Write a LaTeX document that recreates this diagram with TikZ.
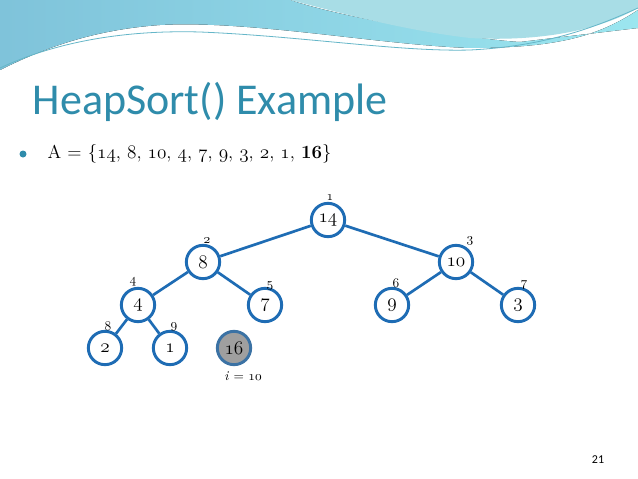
\documentclass[tikz,border=0pt]{standalone}
\usepackage{fontspec}
\newfontfamily\titlefont{Carlito}
\newcommand\osn[1]{{\fontencoding{OML}\fontfamily{lmm}\fontseries{m}\fontshape{it}\selectfont #1}}
\begin{document}
\begin{tikzpicture}[x=0.75pt,y=-0.75pt,
  hn/.style={circle,draw=hblue,line width=2.2pt,minimum size=25pt,inner sep=0pt,fill=white,font=\fontsize{15}{15}\selectfont},
  idx/.style={font=\fontsize{10}{10}\selectfont},
  edge/.style={draw=hblue,line width=2pt}]
\definecolor{hblue}{HTML}{1E6CB4}
\definecolor{wave1}{HTML}{7FC3DA}
\definecolor{wave2}{HTML}{A8DDE6}
\definecolor{ttl}{HTML}{2F8CAB}
\useasboundingbox (0,0) rectangle (638,478);
\fill[white] (0,0) rectangle (638,478);
% waves
\fill[left color=wave1,right color=wave1!70!cyan!60] (0,0) -- (290,0) .. controls (350,20) and (480,40) .. (520,42) -- (638,28) -- (638,10) .. controls (600,35) and (560,48) .. (470,48) .. controls (380,45) and (250,20) .. (160,25) .. controls (90,30) and (40,50) .. (0,70) -- cycle;
\fill[wave2] (290,0) -- (638,0) -- (638,8) .. controls (600,30) and (540,42) .. (470,38) .. controls (400,30) and (330,10) .. (290,0) -- cycle;
\draw[wave1!80!teal,line width=0.6pt] (0,68) .. controls (60,40) and (130,30) .. (200,32) .. controls (300,36) and (400,52) .. (470,50) .. controls (550,46) and (600,25) .. (638,8);
% title
\node[anchor=west,text=ttl,font=\titlefont\fontsize{33}{33}\selectfont] (title) at (28,102) {HeapSort() Example};
\fill[ttl] (23,154) circle (3.5);
\node[anchor=west,font=\fontsize{14}{14}\selectfont] (arr) at (43,154) {A = \{\osn{14}, \osn{8}, \osn{10}, \osn{4}, \osn{7}, \osn{9}, \osn{3}, \osn{2}, \osn{1}, \textbf{16}\}};
% tree
\node[hn] (n1) at (328,220) {\osn{14}};
\node[hn] (n2) at (203,262) {\osn{8}};
\node[hn] (n3) at (456,262) {\osn{10}};
\node[hn] (n4) at (138,305) {\osn{4}};
\node[hn] (n5) at (265,305) {\osn{7}};
\node[hn] (n6) at (392,305) {\osn{9}};
\node[hn] (n7) at (518,305) {\osn{3}};
\node[hn] (n8) at (105,348) {\osn{2}};
\node[hn] (n9) at (170,348) {\osn{1}};
\node[hn,fill=gray!75,draw=hblue!70!gray] (n10) at (234,348) {\osn{16}};
\draw[edge] (n1)--(n2) (n1)--(n3) (n2)--(n4) (n2)--(n5) (n3)--(n6) (n3)--(n7) (n4)--(n8) (n4)--(n9);
\node[idx] (l1) at (330,198) {\osn{1}};
\node[idx] (l2) at (207,241) {\osn{2}};
\node[idx] (l3) at (470,241) {\osn{3}};
\node[idx] (l4) at (133,282) {\osn{4}};
\node[idx] (l5) at (270,286) {\osn{5}};
\node[idx] (l6) at (396,283) {\osn{6}};
\node[idx] (l7) at (524,285) {\osn{7}};
\node[idx] (l8) at (108,326) {\osn{8}};
\node[idx] (l9) at (174,327) {\osn{9}};
\node[font=\fontsize{10}{10}\selectfont] (iv) at (243,376) {\textit{i} = \osn{10}};
\node[font=\titlefont\fontsize{9}{9}\selectfont] (pg) at (598,460) {21};
\end{tikzpicture}
\end{document}
